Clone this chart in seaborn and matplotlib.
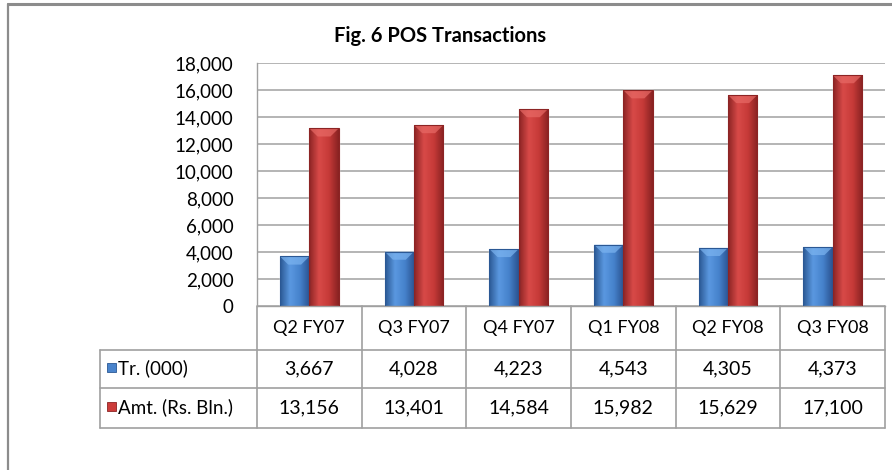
import numpy as np
import pandas as pd
import matplotlib.pyplot as plt
import seaborn as sns
from matplotlib.patches import Rectangle, Polygon
from matplotlib.colors import LinearSegmentedColormap
from matplotlib.ticker import FuncFormatter

quarters = ["Q2 FY07", "Q3 FY07", "Q4 FY07", "Q1 FY08", "Q2 FY08", "Q3 FY08"]
tr_000 = [3667, 4028, 4223, 4543, 4305, 4373]
amt_bln = [13156, 13401, 14584, 15982, 15629, 17100]
series_names = ["Tr. (000)", "Amt. (Rs. Bln.)"]
title = "Fig. 6 POS Transactions"

colors = {"Tr. (000)": "#4a84cc", "Amt. (Rs. Bln.)": "#cc3c3a"}
shades = {
    "Tr. (000)": ["#2b5894", "#5a98e0", "#4682cc", "#2a5290"],
    "Amt. (Rs. Bln.)": ["#8c2424", "#d84a48", "#c63a38", "#882222"],
}
tops = {"Tr. (000)": "#7cb4f0", "Amt. (Rs. Bln.)": "#e86a66"}

df = pd.DataFrame({
    "quarter": quarters * 2,
    "series": [series_names[0]] * 6 + [series_names[1]] * 6,
    "value": tr_000 + amt_bln,
})

sns.set_theme(style="white")
plt.rcParams["font.family"] = ["Lato", "DejaVu Sans"]

W, H = 892, 470
fig = plt.figure(figsize=(W / 100, H / 100), dpi=100)
fig.patch.set_facecolor("white")

# plot area in pixel terms
pl, pr, pt, pb = 257, 885, 63, 306
ax = fig.add_axes([pl / W, 1 - pb / H, (pr - pl) / W, (pb - pt) / H])

sns.barplot(data=df, x="quarter", y="value", hue="series", order=quarters,
            hue_order=series_names, palette=colors, width=0.56, gap=0,
            saturation=1, legend=False, ax=ax)

ax.set_xlim(-0.5, 5.5)
ax.set_ylim(0, 18000)
ax.set_yticks(range(0, 18001, 2000))
ax.yaxis.set_major_formatter(FuncFormatter(lambda v, p: f"{int(v):,}"))
ax.tick_params(axis="y", length=0, pad=17, labelsize=13.5, labelcolor="black")
ax.set_xticks([])
ax.set_xlabel("")
ax.set_ylabel("")
ax.grid(axis="y", color="#a8a8a8", linewidth=1.2)
ax.set_axisbelow(True)
for s in ["top", "right"]:
    ax.spines[s].set_visible(False)
for s in ["left", "bottom"]:
    ax.spines[s].set_color("#a0a0a0")
    ax.spines[s].set_linewidth(1.0)

# bevel look on the bars
bar_patches = [p for p in ax.patches if isinstance(p, Rectangle) and p.get_height() > 0]
for i, p in enumerate(bar_patches):
    name = series_names[0] if i < 6 else series_names[1]
    cmap = LinearSegmentedColormap.from_list("b", shades[name])
    x0, w, h = p.get_x(), p.get_width(), p.get_height()
    grad = np.linspace(0, 1, 64).reshape(1, -1)
    im = ax.imshow(grad, cmap=cmap, aspect="auto", extent=[x0, x0 + w, 0, h],
                   zorder=2.5, interpolation="bicubic")
    im.set_clip_path(p)
    d = 600
    inset = w * 0.28
    ax.add_patch(Polygon([[x0, h], [x0 + w, h], [x0 + w - inset, h - d], [x0 + inset, h - d]],
                         closed=True, facecolor=tops[name], edgecolor="none", alpha=0.7, zorder=2.6))
    ax.add_patch(Rectangle((x0, 0), w, h, fill=False, edgecolor=shades[name][0],
                           linewidth=0.8, zorder=2.7))
ax.set_xlim(-0.5, 5.5)
ax.set_ylim(0, 18000)

# data table below the plot
tl, tt, tb = 100, 306, 428
tax = fig.add_axes([tl / W, 1 - tb / H, (pr - tl) / W, (tb - tt) / H])
unit = (pr - pl) / 6
left_x = -0.5 - (pl - tl) / unit
tax.set_xlim(left_x, 5.5)
tax.set_ylim(tb, tt)
tax.axis("off")

lc = "#a0a0a0"
rows_y = [306, 350, 388, 428]
for yy in rows_y[1:]:
    tax.plot([left_x, 5.5], [yy, yy], color=lc, lw=1.2, clip_on=False)
tax.plot([left_x, left_x], [rows_y[1], rows_y[3]], color=lc, lw=1.2, clip_on=False)
for k in range(7):
    tax.plot([k - 0.5, k - 0.5], [rows_y[0], rows_y[3]], color=lc, lw=1.2, clip_on=False)

for k, q in enumerate(quarters):
    tax.text(k, 328, q, ha="center", va="center", fontsize=13, color="black")
    tax.text(k, 369, f"{tr_000[k]:,}", ha="center", va="center", fontsize=14, color="black")
    tax.text(k, 408, f"{amt_bln[k]:,}", ha="center", va="center", fontsize=14, color="black")

key_w = 9 / unit
for name, yc in zip(series_names, [368, 407]):
    tax.add_patch(Rectangle((left_x + 7 / unit, yc - 5), key_w, 9,
                            facecolor=colors[name], edgecolor=shades[name][0], lw=0.6))
    tax.text(left_x + 18 / unit, yc, name, ha="left", va="center", fontsize=13.5, color="black")

fig.text(440 / W, 1 - 36 / H, title, ha="center", va="center",
         fontsize=14.5, fontweight="bold", color="black")

# chart frame (cropped at right and bottom)
fig.add_artist(plt.Line2D([8 / W, 1], [1 - 4 / H, 1 - 4 / H], color="#8c8c8c", lw=2.2,
                          transform=fig.transFigure))
fig.add_artist(plt.Line2D([8 / W, 8 / W], [0, 1 - 4 / H], color="#8c8c8c", lw=1.6,
                          transform=fig.transFigure))

fig.savefig("out.png", dpi=100)
